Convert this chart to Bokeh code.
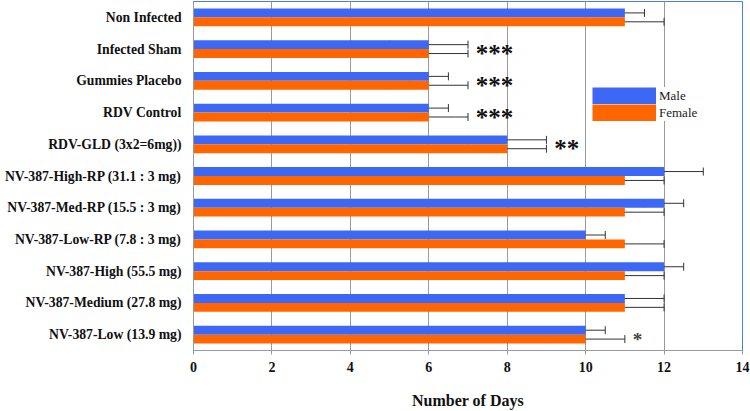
from bokeh.plotting import figure
from bokeh.models import (ColumnDataSource, FactorRange, Whisker, TeeHead, Legend,
                          LegendItem, FixedTicker, Range1d)
from bokeh.transform import dodge
from bokeh.core.properties import value
from bokeh.embed import file_html
from bokeh.resources import INLINE

categories = [
    "Non Infected", "Infected Sham", "Gummies Placebo", "RDV Control",
    "RDV-GLD (3x2=6mg))", "NV-387-High-RP (31.1 : 3 mg)",
    "NV-387-Med-RP (15.5 : 3 mg)", "NV-387-Low-RP (7.8 : 3 mg)",
    "NV-387-High (55.5 mg)", "NV-387-Medium (27.8 mg)", "NV-387-Low (13.9 mg)",
]
male_days = [11, 6, 6, 6, 8, 12, 12, 10, 12, 11, 10]
male_err = [0.5, 1, 0.5, 0.5, 1, 1, 0.5, 0.5, 0.5, 1, 0.5]
female_days = [11, 6, 6, 6, 8, 11, 11, 11, 11, 11, 10]
female_err = [1, 1, 1, 1, 1, 1, 1, 1, 1, 1, 1]
significance = ["", "***", "***", "***", "**", "", "", "", "", "", "*"]
x_ticks = [0, 2, 4, 6, 8, 10, 12, 14]

BLUE = "#3d68f5"
ORANGE = "#ff6600"
SERIF = "Liberation Serif"

src = ColumnDataSource(dict(
    cat=categories,
    male=male_days,
    female=female_days,
    m_lo=[v - e for v, e in zip(male_days, male_err)],
    m_hi=[v + e for v, e in zip(male_days, male_err)],
    f_lo=[v - e for v, e in zip(female_days, female_err)],
    f_hi=[v + e for v, e in zip(female_days, female_err)],
))

sig_x = [max(a, b) + 0.2 for a, b in zip(src.data["m_hi"], src.data["f_hi"])]
sig_src = ColumnDataSource(dict(
    cat=[c for c, s in zip(categories, significance) if s],
    x=[x for x, s in zip(sig_x, significance) if s],
    text=[s for s in significance if s],
    color=["#444444" if s == "*" else "#111111" for s in significance if s],
    size=["19px" if s == "*" else "25px" for s in significance if s],
))

p = figure(width=750, height=411, output_backend="svg", toolbar_location=None,
           y_range=FactorRange(factors=list(reversed(categories))),
           x_range=Range1d(0, 14),
           min_border_left=193, min_border_right=8, min_border_top=1,
           min_border_bottom=58)

bh = 0.28
p.hbar(y=dodge("cat", bh / 2, range=p.y_range), left=0, right="male", height=bh,
       source=src, fill_color=BLUE, line_color=None)
p.hbar(y=dodge("cat", -bh / 2, range=p.y_range), left=0, right="female", height=bh,
       source=src, fill_color=ORANGE, line_color=None)

for lo, hi, off in (("m_lo", "m_hi", bh / 2), ("f_lo", "f_hi", -bh / 2)):
    w = Whisker(source=src, base=dodge("cat", off, range=p.y_range), lower=lo, upper=hi,
                dimension="width", line_color="#333333", line_width=1,
                upper_head=TeeHead(size=8, line_color="#333333", line_width=1),
                lower_head=TeeHead(size=8, line_color="#333333", line_width=1))
    p.add_layout(w)

p.text(x="x", y=dodge("cat", -0.05, range=p.y_range), text="text", source=sig_src,
       text_font=value(SERIF), text_font_style="bold", text_font_size="size",
       text_color="color", text_baseline="alphabetic", text_align="left", y_offset=3)

# legend proxies (zero-length lines, only their legend swatches are visible)
lm = p.line(x=[0, 0], y=[categories[0], categories[0]], line_color=BLUE, line_width=17)
lf = p.line(x=[0, 0], y=[categories[0], categories[0]], line_color=ORANGE, line_width=17)
legend = Legend(items=[LegendItem(label="Male", renderers=[lm]),
                       LegendItem(label="Female", renderers=[lf])],
                location=(399, 229), glyph_width=64, glyph_height=17, label_height=17,
                spacing=0, padding=0, margin=0, label_standoff=3,
                label_text_font=SERIF, label_text_font_size="13px",
                label_text_color="#222222", border_line_color=None,
                background_fill_color="white", background_fill_alpha=1)
p.add_layout(legend)

p.xaxis.ticker = FixedTicker(ticks=x_ticks)
p.xaxis.axis_label = "Number of Days"
p.xaxis.axis_label_text_font = SERIF
p.xaxis.axis_label_text_font_style = "bold"
p.xaxis.axis_label_text_font_size = "16px"
p.xaxis.axis_label_text_color = "#111111"
p.xaxis.axis_label_standoff = 17
p.xaxis.major_label_text_font = SERIF
p.xaxis.major_label_text_font_style = "bold"
p.xaxis.major_label_text_font_size = "14px"
p.xaxis.major_label_text_color = "#111111"
p.xaxis.major_label_standoff = 7
p.xaxis.major_tick_in = 0
p.xaxis.major_tick_out = 4
p.xaxis.minor_tick_line_color = None
p.xaxis.axis_line_color = "#999999"
p.xaxis.major_tick_line_color = "#999999"

p.yaxis.major_label_text_font = SERIF
p.yaxis.major_label_text_font_style = "bold"
p.yaxis.major_label_text_font_size = "13.7px"
p.yaxis.major_label_text_color = "#111111"
p.yaxis.major_tick_line_color = None
p.yaxis.major_label_standoff = 6
p.yaxis.axis_line_color = "#999999"

p.xgrid.ticker = FixedTicker(ticks=x_ticks[1:-1])
p.xgrid.grid_line_color = "#9a9a9a"
p.ygrid.grid_line_color = None
p.outline_line_color = "#4f7fdc"
p.outline_line_width = 1

open("out.html", "w").write(file_html(p, INLINE))
